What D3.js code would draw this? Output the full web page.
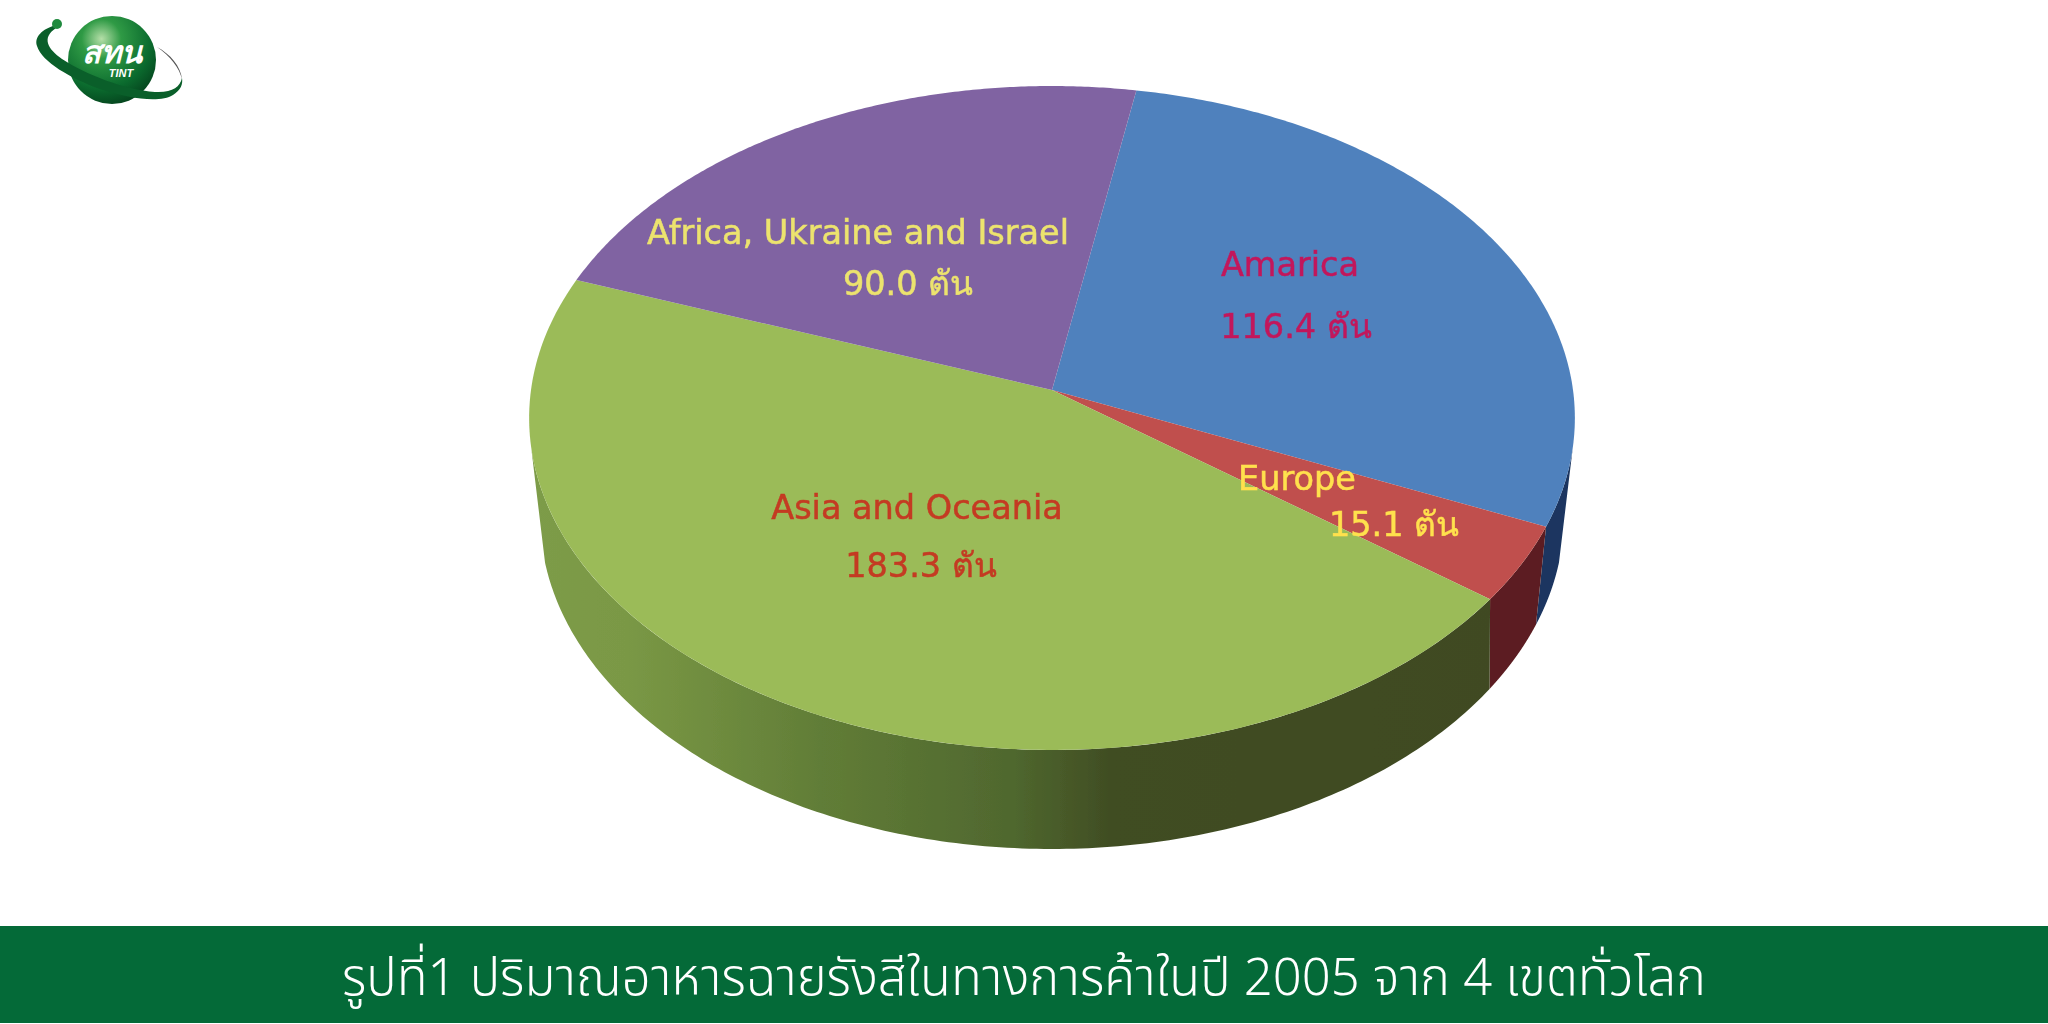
<!DOCTYPE html>
<html><head><meta charset="utf-8">
<script src="https://cdn.jsdelivr.net/npm/d3@7/dist/d3.min.js"></script>
<style>html,body{margin:0;padding:0;background:#fff;overflow:hidden}svg{display:block}</style>
</head><body><svg id="c" width="2048" height="1024"></svg>
<script>
const categories = ["Amarica", "Europe", "Asia and Oceania", "Africa, Ukraine and Israel"];
const values = [116.4, 15.1, 183.3, 90.0];
const valueLabels = ["116.4 ตัน", "15.1 ตัน", "183.3 ตัน", "90.0 ตัน"];
const topColors = ["#4f81bd", "#c0504d", "#9bbb59", "#8064a2"];
const wallColors = ["#1b3660", "#5b1f21", "url(#wallGreen)", "#4a3a60"];
const textColors = ["#c2185b", "#ffe14d", "#c43a22", "#ece36e"];
const nameAnchors = [[1290, 264], [1297, 478], [917, 507], [858, 232]];
const valueAnchors = [[1296, 326], [1394, 524], [921, 565], [908, 283]];
const caption = "รูปที่1 ปริมาณอาหารฉายรังสีในทางการค้าในปี 2005 จาก 4 เขตทั่วโลก";

const svg = d3.select("#c");
const defs = svg.append("defs");
const wg = defs.append("linearGradient").attr("id", "wallGreen").attr("gradientUnits", "userSpaceOnUse")
  .attr("x1", 530).attr("x2", 1500).attr("y1", 0).attr("y2", 0);
[[0, "#7d9c48"], [0.1, "#7a9845"], [0.3, "#617d37"], [0.5, "#4f672e"], [0.6, "#404d23"], [1, "#3f4a22"]]
  .forEach(([o, c]) => wg.append("stop").attr("offset", o).attr("stop-color", c));

// Perspective disc: the top face, and the outline of the lower rim
const cx = 1052, cy = 390, a = 521, b = 329.6, k = 0.0843;
const rimCy = 516, rimRx = 512, rimRy = 333, rimClamp = 508, rimBend = 435, rimBendRate = 0.17;
const rad = Math.PI / 180, wallFrom = 98.6 * rad, wallTo = 261.4 * rad;
function project(theta) {
  const u = Math.sin(theta), v = -Math.cos(theta), s = 1 / (1 - k * v);
  return [cx + a * u * s, cy + b * v * s];
}
function rim(theta) {
  const raw = project(theta)[0] - cx;
  const bent = Math.sign(raw) * (Math.abs(raw) - Math.max(0, Math.abs(raw) - rimBend) * rimBendRate);
  const dx = Math.max(-rimClamp, Math.min(rimClamp, bent));
  return [cx + dx, rimCy + rimRy * Math.sqrt(1 - (dx / rimRx) * (dx / rimRx))];
}
const pie = d3.pie().sort(null).startAngle(10.1 * rad).endAngle(370.1 * rad);
const arcs = pie(values);
const line = d3.line();
const steps = (s, e) => d3.range(0, 181).map(i => s + (e - s) * i / 180);

defs.append("filter").attr("id", "soft").append("feGaussianBlur").attr("stdDeviation", 0.7);
const gPie = svg.append("g").attr("filter", "url(#soft)");

gPie.selectAll("path.wall").data(arcs.filter(d => d.startAngle < wallTo)).join("path").attr("class", "wall")
  .attr("d", d => {
    const t = steps(Math.max(d.startAngle, wallFrom), Math.min(d.endAngle, wallTo));
    return line([...t.map(project), ...t.slice().reverse().map(rim)]) + "Z";
  })
  .attr("fill", d => wallColors[d.index]);

gPie.selectAll("path.top").data(arcs).join("path").attr("class", "top")
  .attr("d", d => line([[cx, cy], ...steps(d.startAngle, d.endAngle).map(project)]) + "Z")
  .attr("fill", d => topColors[d.index]);

// Labels
const font = "Tahoma, 'DejaVu Sans', sans-serif";
defs.append("filter").attr("id", "softText").append("feGaussianBlur").attr("stdDeviation", 0.5);
const g = svg.append("g").attr("font-family", font).attr("font-size", 33.5).attr("text-anchor", "middle")
  .attr("stroke-width", 0.5).attr("filter", "url(#softText)");
g.selectAll("text.n").data(categories).join("text").attr("class", "n")
  .attr("x", (d, i) => nameAnchors[i][0]).attr("y", (d, i) => nameAnchors[i][1])
  .attr("dy", "0.35em").attr("fill", (d, i) => textColors[i]).attr("stroke", (d, i) => textColors[i]).text(d => d);
g.selectAll("text.v").data(valueLabels).join("text").attr("class", "v")
  .attr("x", (d, i) => valueAnchors[i][0]).attr("y", (d, i) => valueAnchors[i][1])
  .attr("dy", "0.35em").attr("fill", (d, i) => textColors[i]).attr("stroke", (d, i) => textColors[i]).text(d => d);

// Footer band
svg.append("rect").attr("x", 0).attr("y", 926).attr("width", 2048).attr("height", 97).attr("fill", "#046a38");
svg.append("text").attr("x", 1024).attr("y", 995).attr("text-anchor", "middle")
  .attr("font-family", "'Noto Sans', 'Noto Sans Thai', 'Liberation Sans', sans-serif").attr("font-size", 52).attr("font-weight", 300)
  .attr("fill", "#fff").attr("textLength", 1364).attr("lengthAdjust", "spacingAndGlyphs").text(caption);

// Logo
const lg = defs.append("radialGradient").attr("id", "ball").attr("cx", 0.38).attr("cy", 0.26).attr("r", 0.8);
[[0, "#b5dfa8"], [0.28, "#2f9a45"], [0.7, "#0b6b2e"], [1, "#04401c"]].forEach(([o, c]) => lg.append("stop").attr("offset", o).attr("stop-color", c));
const logo = svg.append("g");
logo.append("path").attr("fill", "#555")
  .attr("d", "M157,47 C170,54 181,66 182,80 C180,68 170,56 157,47 Z");
logo.append("circle").attr("cx", 112).attr("cy", 60).attr("r", 44).attr("fill", "url(#ball)");
logo.append("path").attr("fill", "#0a5f2a")
  .attr("d", "M56,25 C42,29 34,37 37,46 C42,62 70,78 100,89 C130,99 160,103 173,95 C181,90 183,84 182,78 C180,87 172,93 155,92 C125,90 85,74 62,59 C48,49 41,38 56,28 Z");
logo.append("circle").attr("cx", 57).attr("cy", 24).attr("r", 5).attr("fill", "#1f8a3e");
logo.append("text").attr("x", 112).attr("y", 63).attr("text-anchor", "middle").attr("fill", "#fff")
  .attr("font-family", "'Noto Sans','Liberation Sans',sans-serif").attr("font-weight", 700).attr("font-style", "italic").attr("font-size", 31).text("สทน");
logo.append("text").attr("x", 121).attr("y", 77).attr("text-anchor", "middle").attr("fill", "#fff")
  .attr("font-family", "'Liberation Sans',sans-serif").attr("font-weight", 700).attr("font-style", "italic").attr("font-size", 11).text("TINT");
</script></body></html>
